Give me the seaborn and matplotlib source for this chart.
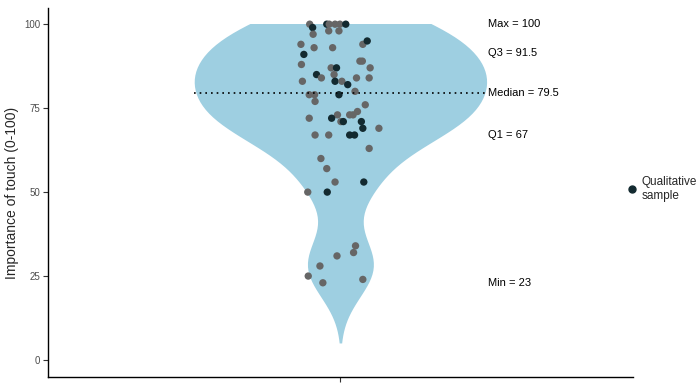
import matplotlib
matplotlib.use('Agg')
import matplotlib.pyplot as plt
from matplotlib.patches import Rectangle
from matplotlib.lines import Line2D
import pandas as pd
import seaborn as sns

# importance scores
SCORES = [100, 99, 100, 100, 100, 100, 100, 97, 98, 98,
          94, 93, 93, 94, 95, 91, 89, 89, 88, 87,
          87, 87, 85, 85, 84, 84, 84, 83, 83, 83,
          82, 80, 79, 79, 79, 77, 76, 74, 73, 73,
          73, 72, 72, 71, 71, 71, 69, 69, 67, 67,
          67, 67, 63, 60, 57, 53, 53, 50, 50, 34,
          32, 31, 28, 25, 23, 24]
# horizontal jitter of each point as drawn
JITTER = [-0.063, -0.057, -0.028, -0.023, -0.011, -0.001, 0.011, -0.056, -0.024, -0.003,
          -0.081, -0.054, -0.016, 0.046, 0.055, -0.075, 0.040, 0.045, -0.080, -0.019,
          -0.008, 0.061, -0.013, -0.049, -0.039, 0.033, 0.059, -0.078, -0.011, 0.003,
          0.015, 0.030, -0.064, -0.053, -0.003, -0.052, 0.051, 0.035, 0.019, 0.026,
          -0.006, -0.064, -0.018, 0.001, 0.006, 0.043, 0.046, 0.079, -0.052, -0.024,
          0.019, 0.029, 0.059, -0.040, -0.028, -0.011, 0.048, -0.067, -0.027, 0.031,
          0.027, -0.007, -0.042, -0.066, -0.036, 0.046]
# 1 = qualitative sample
QUALITATIVE = [0, 1, 1, 0, 0, 0, 1, 0, 0, 0,
               0, 0, 0, 0, 1, 1, 0, 0, 0, 0,
               1, 0, 0, 1, 0, 0, 0, 0, 1, 0,
               1, 0, 0, 0, 1, 0, 0, 0, 0, 0,
               0, 0, 1, 0, 1, 1, 1, 0, 0, 0,
               1, 1, 0, 0, 0, 0, 1, 0, 1, 0,
               0, 0, 0, 0, 0, 0]

STAT_NAMES = ['Max', 'Q3', 'Median', 'Q1', 'Min']
STAT_VALUES = [100, 91.5, 79.5, 67, 23]

VIOLIN_COLOR = '#9ecfe1'
GREY = '#666666'
DARK = '#132a30'

sns.set_style('white')
plt.rcParams['font.family'] = ['Liberation Sans', 'DejaVu Sans']

df = pd.DataFrame({'score': SCORES, 'jitter': JITTER,
                   'group': ['Qualitative' if q else 'Other' for q in QUALITATIVE]})

fig = plt.figure(figsize=(7, 3.84), dpi=100)
ax = fig.add_axes([0.0686, 0.0174, 0.904 - 0.0686, 0.979 - 0.0174])

sns.violinplot(y=df['score'], ax=ax, color=VIOLIN_COLOR, saturation=1, inner=None,
               cut=2.2, bw_adjust=0.9, width=0.6, linewidth=0)
# ggplot-style scale limit: the density is cut off at 100
clip = Rectangle((-1, -20), 2, 120, transform=ax.transData)
for coll in ax.collections:
    coll.set_clip_path(clip)

sns.scatterplot(data=df, x='jitter', y='score', hue='group', hue_order=['Other', 'Qualitative'],
                palette={'Other': GREY, 'Qualitative': DARK}, s=28, linewidth=0,
                legend=False, ax=ax, zorder=3)

median = STAT_VALUES[STAT_NAMES.index('Median')]
ax.hlines(median, -0.3, 0.3, colors='black', linestyles=(0, (1, 2.4)), linewidth=1.2, zorder=4)

for name, val in zip(STAT_NAMES, STAT_VALUES):
    label = f'{name} = {val:g}'
    ax.text(0.303, val, label, ha='left', va='center', fontsize=8, color='black')

ax.set_xlim(-0.6, 0.6)
ax.set_ylim(-5.15, 104.8)
ax.set_yticks([0, 25, 50, 75, 100])
ax.set_xticks([0])
ax.set_xticklabels([''])
ax.set_xlabel('')
ax.set_ylabel('Importance of touch (0-100)', fontsize=10, labelpad=4)
ax.tick_params(axis='both', length=3.5, width=0.8, color='#333333', labelsize=7,
               labelcolor='#4d4d4d', pad=2, left=True, bottom=True)
for side in ['top', 'right']:
    ax.spines[side].set_visible(False)
for side in ['left', 'bottom']:
    ax.spines[side].set_color('black')
    ax.spines[side].set_linewidth(1.0)

handle = Line2D([], [], marker='o', linestyle='none', color=DARK, markersize=5)
fig.legend([handle], ['Qualitative\nsample'], loc='center left',
           bbox_to_anchor=(0.896, 1 - 189 / 384), frameon=False, fontsize=8.5,
           handletextpad=0.45, borderaxespad=0, handlelength=0.8, borderpad=0)

fig.savefig('out.png', dpi=100)
